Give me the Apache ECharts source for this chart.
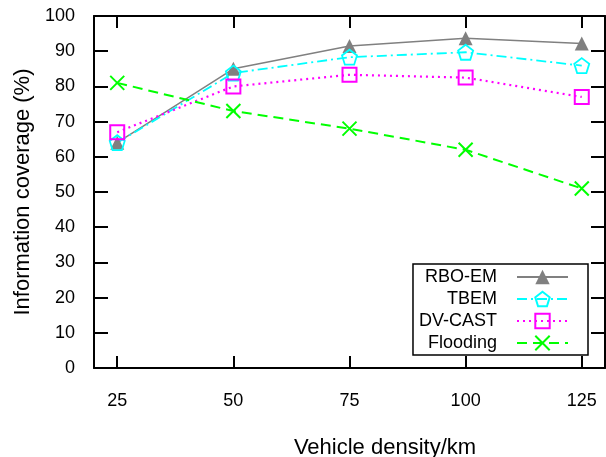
<!DOCTYPE html>
<html>
<head>
<meta charset="utf-8">
<script src="https://cdn.jsdelivr.net/npm/echarts@6/dist/echarts.min.js"></script>
<style>
  html, body { margin: 0; padding: 0; background: #fff; }
  #chart { width: 606px; height: 457px; }
</style>
</head>
<body>
<div id="chart"></div>
<script>
  const density = [25, 50, 75, 100, 125];
  const rboEm = [64, 85, 91.5, 93.7, 92.2];
  const tbem = [64, 83.8, 88.3, 89.7, 85.9];
  const dvCast = [67, 80, 83.3, 82.5, 77];
  const flooding = [81, 73, 68, 62, 51];
  const yTicks = [0, 10, 20, 30, 40, 50, 60, 70, 80, 90, 100];

  const font = "Liberation Sans, Arial, sans-serif";
  const pentagon = "path://M50 0L97.55 34.55L79.4 90.45L20.6 90.45L2.45 34.55Z";
  const cross = "path://M0 0L10 10M10 0L0 10";

  const pairs = (ys) => density.map((x, i) => [x, ys[i]]);

  const chart = echarts.init(document.getElementById("chart"));

  const xBase = {
    type: "value",
    min: 20,
    max: 130,
    axisLine: { show: true, onZero: false, lineStyle: { color: "#000", width: 2 } },
    axisTick: { show: true, inside: true, length: 12, customValues: density, lineStyle: { color: "#000", width: 2 } },
    splitLine: { show: false },
  };
  const yBase = {
    type: "value",
    min: 0,
    max: 100,
    interval: 10,
    axisLine: { show: true, lineStyle: { color: "#000", width: 2 } },
    axisTick: { show: true, inside: true, length: 14, lineStyle: { color: "#000", width: 2 } },
    splitLine: { show: false },
  };

  const option = {
    animation: false,
    backgroundColor: "#fff",
    textStyle: { fontFamily: font },
    grid: { left: 94, right: 1, top: 16, bottom: 89, containLabel: false, outerBoundsMode: "none" },
    legend: {
      orient: "vertical",
      align: "right",
      right: 18,
      top: 264,
      padding: [4, 19, 3, 6],
      itemGap: 4,
      itemWidth: 51,
      itemHeight: 18,
      borderColor: "#000",
      borderWidth: 1.5,
      textStyle: { fontFamily: font, fontSize: 18, color: "#000", padding: [0, 15, 0, 0] },
      data: ["RBO-EM", "TBEM", "DV-CAST", "Flooding"],
    },
    xAxis: [
      Object.assign({}, xBase, {
        position: "bottom",
        name: "Vehicle density/km",
        nameLocation: "middle",
        nameGap: 69,
        nameTextStyle: { fontFamily: font, fontSize: 22, color: "#000", padding: [0, 0, 0, 71] },
        axisLabel: { show: true, customValues: density, margin: 24, fontFamily: font, fontSize: 18, color: "#000" },
      }),
      Object.assign({}, xBase, { position: "top", axisLabel: { show: false } }),
    ],
    yAxis: [
      Object.assign({}, yBase, {
        position: "left",
        name: "Information coverage (%)",
        nameLocation: "middle",
        nameGap: 58,
        nameTextStyle: { fontFamily: font, fontSize: 22, color: "#000" },
        axisLabel: { show: true, margin: 19, fontFamily: font, fontSize: 18, color: "#000",
          formatter: (v) => (yTicks.includes(v) ? String(v) : "") },
      }),
      Object.assign({}, yBase, { position: "right", axisLabel: { show: false } }),
    ],
    series: [
      {
        name: "RBO-EM",
        type: "line",
        data: pairs(rboEm),
        symbol: "triangle",
        symbolSize: 14,
        lineStyle: { color: "#808080", width: 1.5, type: "solid" },
        itemStyle: { color: "#808080" },
      },
      {
        name: "TBEM",
        type: "line",
        data: pairs(tbem),
        symbol: pentagon,
        symbolSize: 15,
        lineStyle: { color: "#00ffff", width: 1.8, type: [10, 4, 2, 4] },
        itemStyle: { color: "transparent", borderColor: "#00ffff", borderWidth: 1.8 },
      },
      {
        name: "DV-CAST",
        type: "line",
        data: pairs(dvCast),
        symbol: "rect",
        symbolSize: 14,
        lineStyle: { color: "#ff00ff", width: 2.2, type: [2, 4] },
        itemStyle: { color: "transparent", borderColor: "#ff00ff", borderWidth: 2 },
      },
      {
        name: "Flooding",
        type: "line",
        data: pairs(flooding),
        symbol: cross,
        symbolSize: 14,
        lineStyle: { color: "#00ff00", width: 2, type: [10, 6] },
        itemStyle: { color: "transparent", borderColor: "#00ff00", borderWidth: 2 },
      },
    ],
  };

  chart.setOption(option);
</script>
</body>
</html>
